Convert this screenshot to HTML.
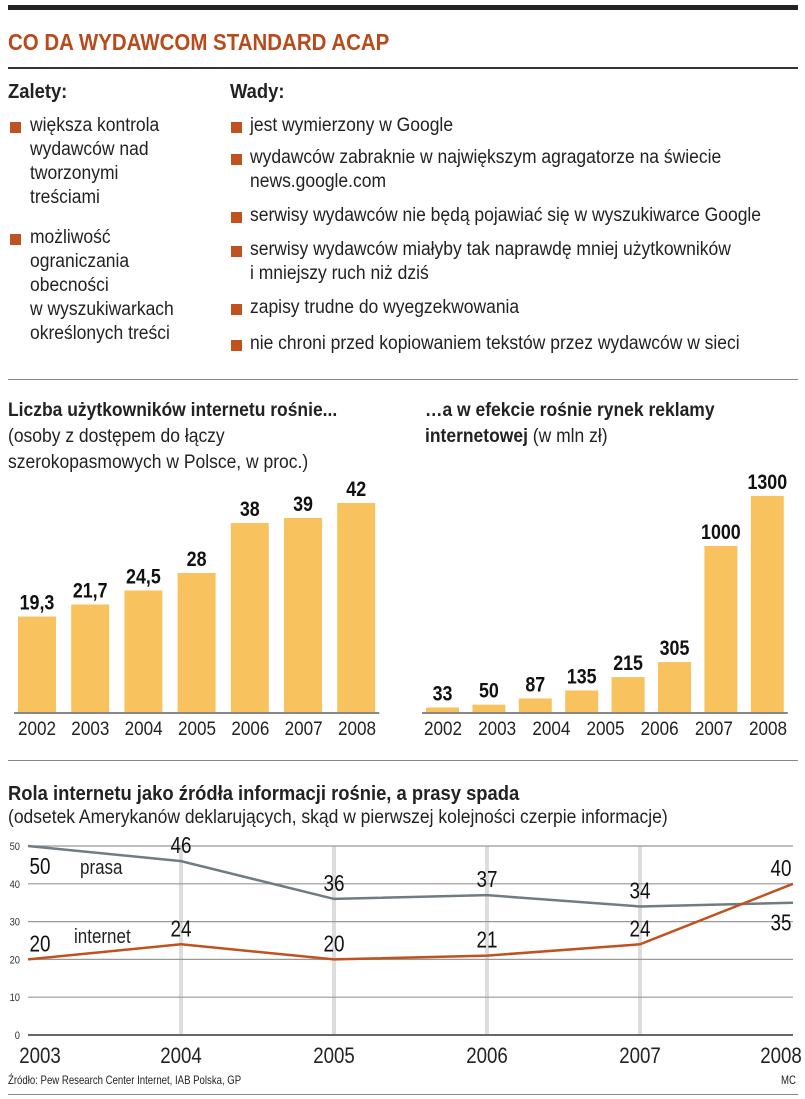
<!DOCTYPE html>
<html><head><meta charset="utf-8"><style>
body{margin:0;background:#fff}
#root{position:relative;width:805px;height:1099px;overflow:hidden;font-family:"Liberation Sans",sans-serif;color:#222}
.t{position:absolute;white-space:nowrap;font-size:19px;line-height:24px;transform:scaleX(0.92);transform-origin:0 0}
.b{font-weight:bold}
.sq{position:absolute;width:11px;height:11px;background:#c0521f}
.hr{position:absolute;left:8px;width:790px;background:#333}
</style></head><body>
<div id="root">
<div class="hr" style="top:5px;height:5px;background:#222"></div>
<div class="t b" style="left:8px;top:28px;font-size:23px;line-height:28px;color:#b84a1c;transform:scaleX(0.89)">CO DA WYDAWCOM STANDARD ACAP</div>
<div class="hr" style="top:67px;height:2px"></div>
<div class="t b" style="left:8px;top:80px;font-size:20px">Zalety:</div>
<div class="t b" style="left:230px;top:80px;font-size:20px">Wady:</div>

<div class="sq" style="left:10px;top:122px"></div>
<div class="t" style="left:30px;top:114px">większa kontrola<br>wydawców nad<br>tworzonymi<br>treściami</div>
<div class="sq" style="left:10px;top:234px"></div>
<div class="t" style="left:30px;top:226px">możliwość<br>ograniczania<br>obecności<br>w wyszukiwarkach<br>określonych treści</div>

<div class="sq" style="left:231px;top:122px"></div>
<div class="t" style="left:250px;top:114px">jest wymierzony w Google</div>
<div class="sq" style="left:231px;top:154px"></div>
<div class="t" style="left:250px;top:146px">wydawców zabraknie w największym agragatorze na świecie<br>news.google.com</div>
<div class="sq" style="left:231px;top:212px"></div>
<div class="t" style="left:250px;top:204px">serwisy wydawców nie będą pojawiać się w wyszukiwarce Google</div>
<div class="sq" style="left:231px;top:246px"></div>
<div class="t" style="left:250px;top:238px">serwisy wydawców miałyby tak naprawdę mniej użytkowników<br>i mniejszy ruch niż dziś</div>
<div class="sq" style="left:231px;top:304px"></div>
<div class="t" style="left:250px;top:296px">zapisy trudne do wyegzekwowania</div>
<div class="sq" style="left:231px;top:340px"></div>
<div class="t" style="left:250px;top:332px">nie chroni przed kopiowaniem tekstów przez wydawców w sieci</div>

<div class="hr" style="top:379px;height:1px;background:#888"></div>
<div class="t" style="left:8px;top:398px;line-height:26px"><b>Liczba użytkowników internetu rośnie...</b><br>(osoby z dostępem do łączy<br>szerokopasmowych w Polsce, w proc.)</div>
<div class="t" style="left:425px;top:398px;line-height:26px"><b>…a w efekcie rośnie rynek reklamy<br>internetowej</b> (w mln zł)</div>

<svg id="bars" style="position:absolute;left:0;top:0" width="805" height="1099"></svg>

<div class="hr" style="top:760px;height:1px;background:#888"></div>
<div class="t b" style="left:8px;top:782px;font-size:20px">Rola internetu jako źródła informacji rośnie, a prasy spada</div>
<div class="t" style="left:8px;top:806px">(odsetek Amerykanów deklarujących, skąd w pierwszej kolejności czerpie informacje)</div>
<svg id="line" style="position:absolute;left:0;top:0" width="805" height="1099"></svg>
<div class="t" style="left:8px;top:1072px;font-size:12px;line-height:16px;transform:scaleX(0.8)">Źródło: Pew Research Center Internet, IAB Polska, GP</div>
<div class="t" style="left:781px;top:1072px;font-size:12px;line-height:16px;transform:scaleX(0.8)">MC</div>
<div class="hr" style="top:1094px;height:1px;background:#888"></div>
</div>
<script>
const userYears=["2002","2003","2004","2005","2006","2007","2008"];
const users=[19.3,21.7,24.5,28,38,39,42];
const usersLabels=["19,3","21,7","24,5","28","38","39","42"];
const adYears=["2002","2003","2004","2005","2006","2007","2008"];
const ads=[33,50,87,135,215,305,1000,1300];
const adLabels=["33","50","87","135","215","305","1000","1300"];
const lineYears=["2003","2004","2005","2006","2007","2008"];
const prasa=[50,46,36,37,34,35];
const internet=[20,24,20,21,24,40];
const yTicks=[0,10,20,30,40,50];

const NS="http://www.w3.org/2000/svg";
const FF="Liberation Sans, sans-serif";
function mk(p,tag,at){const e=document.createElementNS(NS,tag);for(const k in at)e.setAttribute(k,at[k]);p.appendChild(e);return e;}
function txt(p,x,y,s,size,bold,anchor,fill,sx){
 sx=sx||0.85;
 const t=mk(p,'text',{x:x,y:y,'text-anchor':anchor||'middle','font-size':size,'font-weight':bold?'bold':'normal','font-family':FF,fill:fill||'#111',transform:'translate('+x+' 0) scale('+sx+' 1) translate('+(-x)+' 0)'});
 t.textContent=s;return t;
}
const bars=document.getElementById('bars');
const base=713;
function drawBars(vals,labels,x0,step,w,scale,name){
 vals.forEach((v,i)=>{
  const h=v*scale,x=x0+i*step;
  const r=mk(bars,'rect',{x:x,y:base-h,width:w,height:h,fill:'#f8c35e'});
  
  
  const t=txt(bars,x+w/2,base-h-7,labels[i],21,true);
  
  
 });
 const l=mk(bars,'line',{x1:x0-4,x2:x0+(vals.length-1)*step+w+4,y1:base,y2:base,stroke:'#888','stroke-width':2});
 
 
}
function drawYears(years,xStart,xEnd){
 years.forEach((y,i)=>{
  const x=xStart+i*(xEnd-xStart)/(years.length-1);
  const t=txt(bars,x,base+22,y,19,false,'middle','#222',0.9);
  
  
 });
}
drawBars(users,usersLabels,18,53.2,38,5.0,'users');
drawYears(userYears,37,357);
drawBars(ads,adLabels,426,46.4,33,0.167,'ads');
drawYears(adYears,443,768);

// line chart
const L=document.getElementById('line');
const x0=28,x1=793,y0=1035,ppu=3.78;
const xs=i=>x0+i*(x1-x0)/(lineYears.length-1);
const ys=v=>y0-v*ppu;
lineYears.forEach((y,i)=>{
 if(i>0&&i<lineYears.length-1){
  const g=mk(L,'line',{x1:xs(i),x2:xs(i),y1:ys(50),y2:y0,stroke:'#ddd','stroke-width':4});
  
  
 }
 const t=txt(L,xs(i)+(i===0?12:i===lineYears.length-1?-12:0),y0+28,y,22,false,'middle','#222',0.85);
 
 
});
yTicks.forEach(v=>{
 const g=mk(L,'line',{x1:x0,x2:x1,y1:ys(v),y2:ys(v),stroke:v===0?'#666':'#999','stroke-width':v===0?2:1.2});
 
 
 const t=txt(L,20,ys(v)+4,String(v),11,false,'end','#333',0.85);
 
 
});
function series(vals,color,name,labelPos){
 const p=mk(L,'polyline',{points:vals.map((v,i)=>xs(i)+','+ys(v)).join(' '),fill:'none',stroke:color,'stroke-width':2.5});
 
 
 vals.forEach((v,i)=>{
  const below=labelPos[i];
  let x=xs(i); if(i===0)x+=12; if(i===vals.length-1)x-=12;
  const t=txt(L,x,below?ys(v)+28:ys(v)-8,String(v),23,false,'middle','#111',0.82);
  
  
 });
}
series(prasa,'#6f7d82','prasa',[true,false,false,false,false,true]);
series(internet,'#c0521f','internet',[false,false,false,false,false,false]);
const lp=txt(L,80,874,'prasa',20,false,'start','#222',0.85);


const li=txt(L,74,943,'internet',20,false,'start','#222',0.85);


</script>
</body></html>
